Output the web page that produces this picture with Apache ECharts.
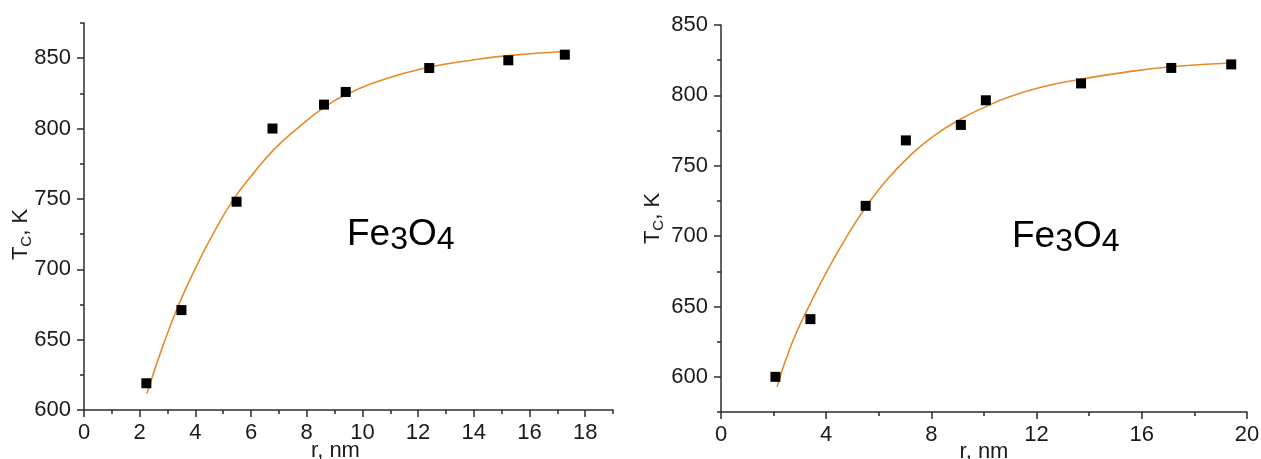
<!DOCTYPE html>
<html>
<head>
<meta charset="utf-8">
<script src="https://cdn.jsdelivr.net/npm/echarts@6/dist/echarts.min.js"></script>
<style>
html,body{margin:0;padding:0;background:#fff;}
#chart{width:1261px;height:459px;}
</style>
</head>
<body>
<div id="chart"></div>
<script>
// ---- Left panel data ----
var leftR = [2.24, 3.5, 5.48, 6.77, 8.62, 9.4, 12.4, 15.24, 17.27];
var leftT = [619, 671, 748, 800, 817, 826, 843, 848.5, 852.5];
var leftFitR = [2.26, 2.86, 3.46, 4.06, 4.66, 5.38, 6.1, 6.82, 7.66, 8.62, 9.4, 10.79, 12.38, 13.79, 15.23, 17.27];
var leftFitT = [611.8, 647, 677.5, 703, 726, 750, 768.5, 785, 800, 815, 824, 835, 843.5, 848.2, 851.8, 854.8];
var leftXMajor = [0, 2, 4, 6, 8, 10, 12, 14, 16, 18];
var leftXMinor = [1, 3, 5, 7, 9, 11, 13, 15, 17, 19];
var leftYMajor = [600, 650, 700, 750, 800, 850];
var leftYMinor = [625, 675, 725, 775, 825, 875];

// ---- Right panel data ----
var rightR = [2.07, 3.4, 5.5, 7.03, 9.12, 10.07, 13.69, 17.12, 19.4];
var rightT = [600, 641, 721.5, 768, 779, 796.5, 808.5, 819.5, 822];
var rightFitR = [2.13, 2.7, 3.34, 3.97, 4.73, 5.5, 6.26, 7.15, 8.04, 9.05, 10.07, 10.9, 12.2, 13.69, 15.4, 17.12, 19.4];
var rightFitT = [593, 624, 650, 673, 698, 720.5, 739, 756.5, 770.5, 782.5, 792, 798.5, 806, 811.5, 816.5, 820.3, 823];
var rightXMajor = [0, 4, 8, 12, 16, 20];
var rightXMinor = [2, 6, 10, 14, 18];
var rightYMajor = [600, 650, 700, 750, 800, 850];
var rightYMinor = [575, 625, 675, 725, 775, 825];

var FONT = 'Liberation Sans, Arial, sans-serif';
var AXIS_COLOR = '#2b2b2b';
var LABEL_COLOR = '#1a1a1a';
var FIT_COLOR = '#E68B2C';
var FS = 22;

function pairs(xs, ys) { return xs.map(function (x, i) { return [x, ys[i]]; }); }

function mainX(grid, min, max, ticks, nameOpts) {
  return {
    type: 'value', gridIndex: grid, min: min, max: max, position: 'bottom',
    name: 'r, nm', nameLocation: 'middle', nameGap: nameOpts.gap, nameMoveOverlap: false,
    nameTextStyle: { fontFamily: FONT, fontSize: FS, color: LABEL_COLOR, padding: nameOpts.padding },
    axisLine: { show: true, onZero: false, lineStyle: { color: AXIS_COLOR, width: 1.5 } },
    axisTick: { show: true, inside: false, length: 7, customValues: ticks, lineStyle: { color: AXIS_COLOR, width: 1.5 } },
    axisLabel: { show: true, customValues: ticks, margin: 12, fontFamily: FONT, fontSize: FS, color: LABEL_COLOR },
    splitLine: { show: false }
  };
}
function minorX(grid, min, max, ticks) {
  return {
    type: 'value', gridIndex: grid, min: min, max: max, position: 'bottom',
    axisLine: { show: false, onZero: false },
    axisTick: { show: true, inside: false, length: 4, customValues: ticks, lineStyle: { color: AXIS_COLOR, width: 1.5 } },
    axisLabel: { show: false }, splitLine: { show: false }
  };
}
function mainY(grid, min, max, ticks, gap, pad) {
  return {
    type: 'value', gridIndex: grid, min: min, max: max, position: 'left',
    name: '{t|T}{s|C}{t|, K}', nameLocation: 'middle', nameGap: gap, nameMoveOverlap: false,
    nameTextStyle: {
      fontFamily: FONT, fontSize: FS, color: LABEL_COLOR, padding: pad,
      rich: {
        t: { fontFamily: FONT, fontSize: FS, color: LABEL_COLOR, lineHeight: 27 },
        s: { fontFamily: FONT, fontSize: 15, color: LABEL_COLOR, lineHeight: 14, verticalAlign: 'bottom' }
      }
    },
    axisLine: { show: true, onZero: false, lineStyle: { color: AXIS_COLOR, width: 1.5 } },
    axisTick: { show: true, inside: false, length: 7, customValues: ticks, lineStyle: { color: AXIS_COLOR, width: 1.5 } },
    axisLabel: { show: true, customValues: ticks, margin: 13, fontFamily: FONT, fontSize: FS, color: LABEL_COLOR },
    splitLine: { show: false }
  };
}
function minorY(grid, min, max, ticks) {
  return {
    type: 'value', gridIndex: grid, min: min, max: max, position: 'left',
    axisLine: { show: false, onZero: false },
    axisTick: { show: true, inside: false, length: 4, customValues: ticks, lineStyle: { color: AXIS_COLOR, width: 1.5 } },
    axisLabel: { show: false }, splitLine: { show: false }
  };
}

var chart = echarts.init(document.getElementById('chart'), null, { renderer: 'canvas' });

var formulaRich = {
  a: { fontFamily: FONT, fontSize: 37, lineHeight: 44, fill: '#000' },
  s: { fontFamily: FONT, fontSize: 32, lineHeight: 25, verticalAlign: 'bottom', fill: '#000' }
};

chart.setOption({
  animation: false,
  backgroundColor: '#ffffff',
  grid: [
    { left: 84, right: 648, top: 23, bottom: 49, outerBoundsMode: 'none', containLabel: false },
    { left: 721, right: 14, top: 25, bottom: 47, outerBoundsMode: 'none', containLabel: false }
  ],
  xAxis: [
    mainX(0, 0, 19, leftXMajor, { gap: 30, padding: [0, 26, 0, 0] }),
    minorX(0, 0, 19, leftXMinor),
    mainX(1, 0, 20, rightXMajor, { gap: 29, padding: [0, 0, 0, 0] }),
    minorX(1, 0, 20, rightXMinor)
  ],
  yAxis: [
    mainY(0, 600, 875, leftYMajor, 50, [0, 36, 0, 0]),
    minorY(0, 600, 875, leftYMinor),
    mainY(1, 575, 850, rightYMajor, 55, [0, 0, 0, 0]),
    minorY(1, 575, 850, rightYMinor)
  ],
  graphic: [
    { type: 'text', left: 347, top: 216, style: { text: '{a|Fe}{s|3}{a|O}{s|4}', rich: formulaRich, fill: '#000' } },
    { type: 'text', left: 1012, top: 218, style: { text: '{a|Fe}{s|3}{a|O}{s|4}', rich: formulaRich, fill: '#000' } }
  ],
  series: [
    { type: 'line', xAxisIndex: 0, yAxisIndex: 0, data: pairs(leftFitR, leftFitT), smooth: 0.5,
      showSymbol: false, lineStyle: { color: FIT_COLOR, width: 1.6 }, z: 2 },
    { type: 'scatter', xAxisIndex: 0, yAxisIndex: 0, data: pairs(leftR, leftT), symbol: 'rect',
      symbolSize: 10, itemStyle: { color: '#000', opacity: 1 }, z: 3 },
    { type: 'line', xAxisIndex: 2, yAxisIndex: 2, data: pairs(rightFitR, rightFitT), smooth: 0.5,
      showSymbol: false, lineStyle: { color: FIT_COLOR, width: 1.6 }, z: 2 },
    { type: 'scatter', xAxisIndex: 2, yAxisIndex: 2, data: pairs(rightR, rightT), symbol: 'rect',
      symbolSize: 10, itemStyle: { color: '#000', opacity: 1 }, z: 3 }
  ]
});
</script>
</body>
</html>
